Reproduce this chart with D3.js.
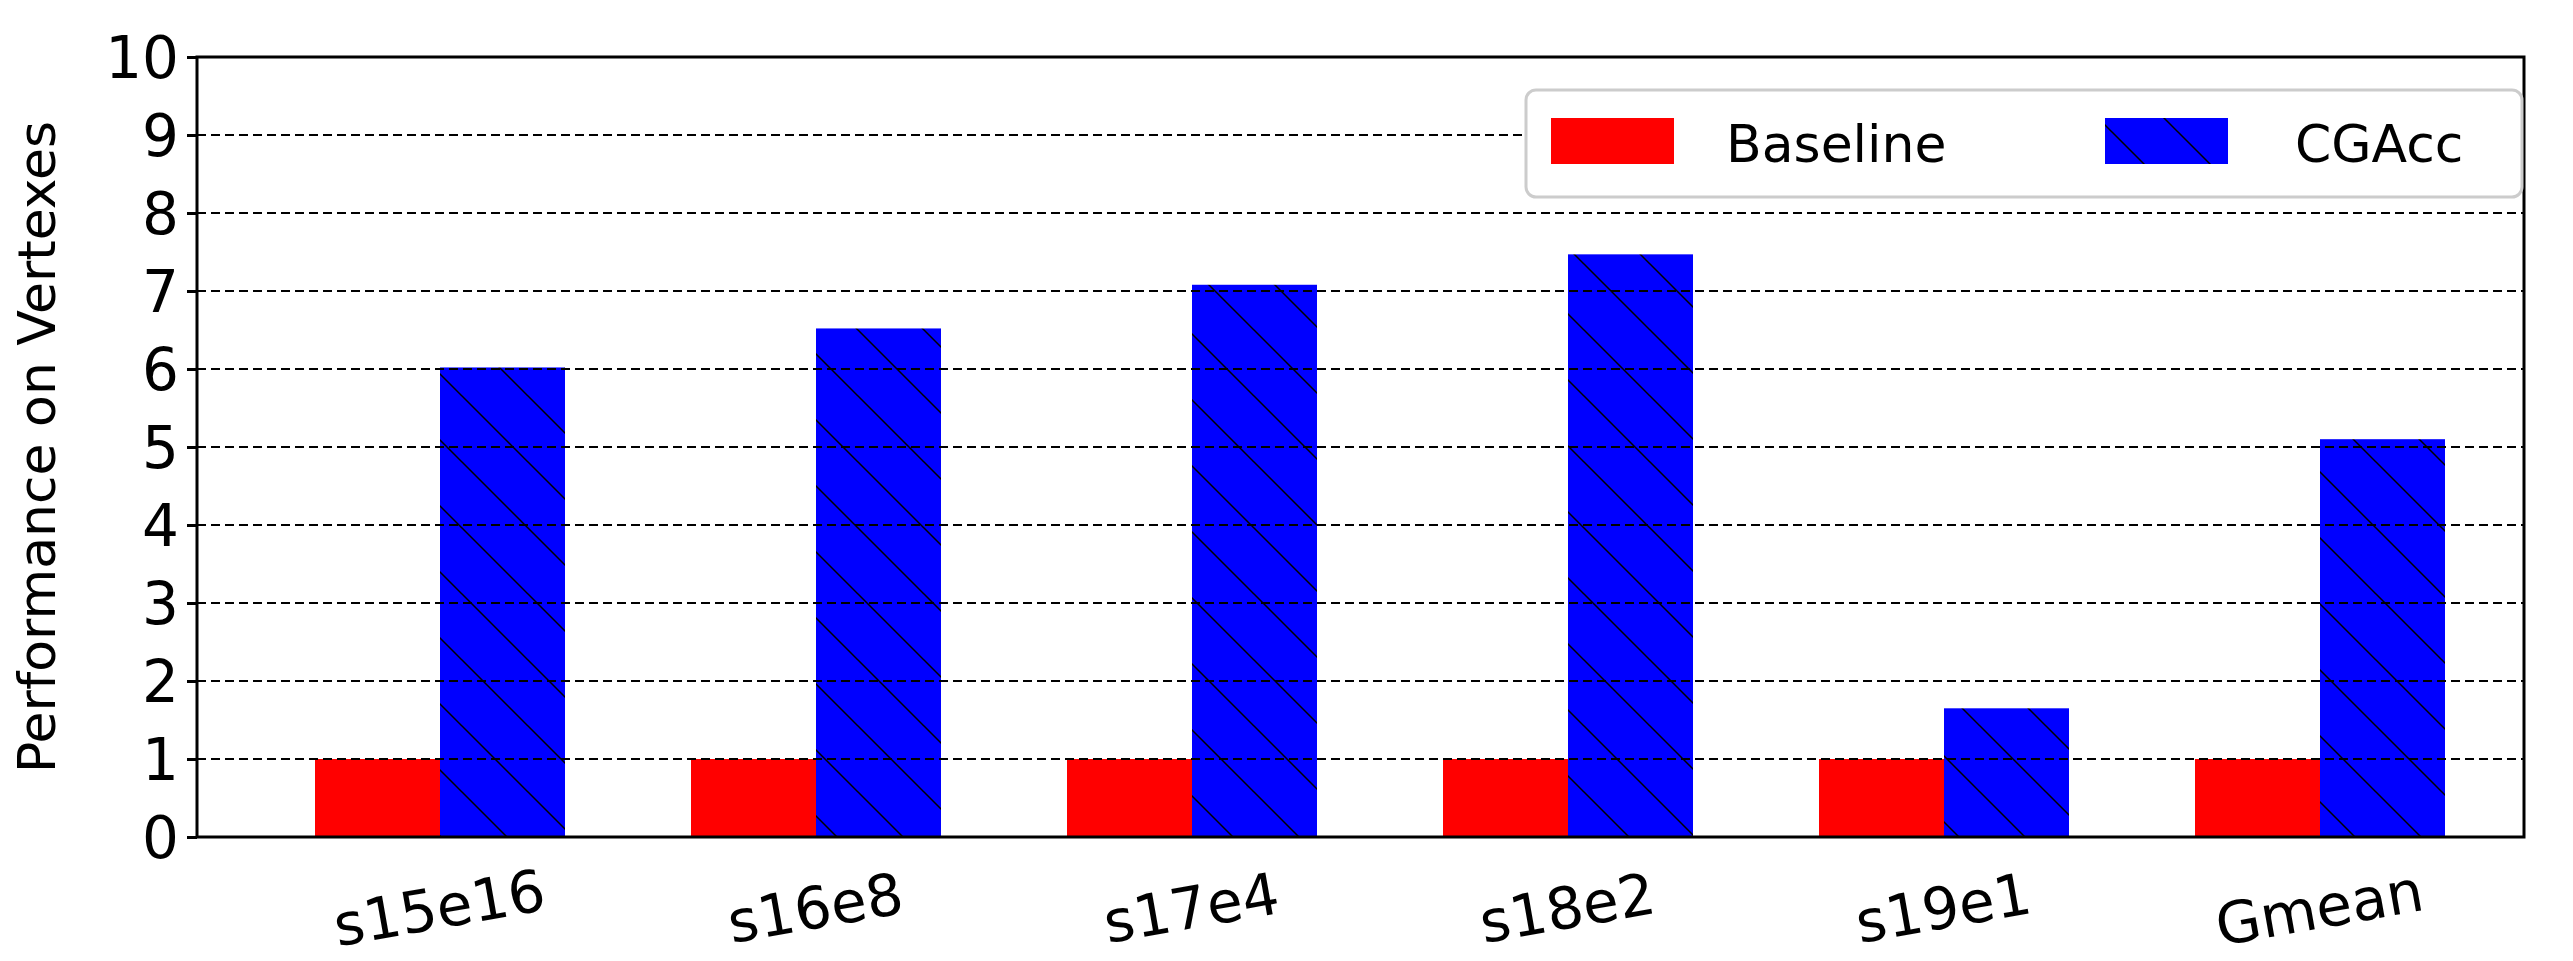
<!DOCTYPE html>
<html>
<head>
<meta charset="utf-8">
<script src="https://cdn.jsdelivr.net/npm/d3@7"></script>
<style>
  body { margin: 0; background: #fff; }
  text { font-family: "DejaVu Sans", sans-serif; }
</style>
</head>
<body>
<div id="chart"></div>
<script>
const categories = ['s15e16', 's16e8', 's17e4', 's18e2', 's19e1', 'Gmean'];
const baseline = [1, 1, 1, 1, 1, 1];
const cgacc = [6.02, 6.52, 7.08, 7.47, 1.65, 5.1];
const yTicks = [0, 1, 2, 3, 4, 5, 6, 7, 8, 9, 10];
const seriesNames = ['Baseline', 'CGAcc'];

const width = 2573, height = 961;
const margin = { left: 197, right: 49, top: 57, bottom: 124 };
const barWidth = 125;

const svg = d3.select('#chart').append('svg')
    .attr('width', width).attr('height', height);

const defs = svg.append('defs');
const pat = defs.append('pattern')
    .attr('id', 'hatch').attr('patternUnits', 'userSpaceOnUse')
    .attr('width', 66).attr('height', 66);
pat.append('rect').attr('width', 66).attr('height', 66).attr('fill', '#0000ff');
pat.append('path').attr('d', 'M-6,-6L72,72M-6,60L6,72M60,-6L72,6')
    .attr('stroke', '#000').attr('stroke-width', 1.5);

const x = d3.scaleLinear()
    .domain([0, categories.length - 1])
    .range([margin.left + 243, margin.left + 243 + 376 * (categories.length - 1)]);
const y = d3.scaleLinear().domain([0, 10]).range([height - margin.bottom, margin.top]);

const g = svg.append('g');

// bars
g.selectAll('.base').data(baseline).join('rect')
    .attr('x', (d, i) => x(i) - barWidth)
    .attr('y', d => y(d))
    .attr('width', barWidth)
    .attr('height', d => y(0) - y(d))
    .attr('fill', '#ff0000');

g.selectAll('.cg').data(cgacc).join('rect')
    .attr('x', (d, i) => x(i))
    .attr('y', d => y(d))
    .attr('width', barWidth)
    .attr('height', d => y(0) - y(d))
    .attr('fill', 'url(#hatch)');

// grid on top
g.selectAll('.grid').data(yTicks.slice(1, -1)).join('line')
    .attr('x1', margin.left).attr('x2', width - margin.right)
    .attr('y1', d => y(d)).attr('y2', d => y(d))
    .attr('stroke', '#000').attr('stroke-width', 2.2)
    .attr('stroke-dasharray', '9,5');

// frame
svg.append('rect')
    .attr('x', margin.left).attr('y', margin.top)
    .attr('width', width - margin.left - margin.right)
    .attr('height', height - margin.top - margin.bottom)
    .attr('fill', 'none').attr('stroke', '#000').attr('stroke-width', 3);

// y axis
const yAxis = svg.append('g')
    .attr('transform', `translate(${margin.left},0)`)
    .call(d3.axisLeft(y).tickValues(yTicks).tickSize(10).tickPadding(8));
yAxis.select('.domain').remove();
yAxis.selectAll('line').attr('stroke-width', 3);
yAxis.selectAll('text').attr('font-size', 58).attr('dy', '0.36em');

// x labels
svg.selectAll('.xl').data(categories).join('text')
    .attr('transform', (d, i) => `translate(${x(i)},${height - margin.bottom + 75}) rotate(-10)`)
    .attr('text-anchor', 'middle')
    .attr('dominant-baseline', 'middle')
    .attr('font-size', 58)
    .text(d => d);

svg.append('text')
    .attr('transform', `translate(55,${(margin.top + height - margin.bottom) / 2}) rotate(-90)`)
    .attr('text-anchor', 'middle')
    .attr('font-size', 52)
    .text('Performance on Vertexes');

// legend
const lg = svg.append('g');
lg.append('rect').attr('x', 1526).attr('y', 90).attr('width', 996).attr('height', 107)
    .attr('rx', 10).attr('fill', '#fff').attr('stroke', '#ccc').attr('stroke-width', 3);
const lx = [1551, 2105];
const fills = ['#ff0000', 'url(#hatch)'];
lg.selectAll('.lp').data(seriesNames).join('rect')
    .attr('x', (d, i) => lx[i]).attr('y', 118).attr('width', 123).attr('height', 46)
    .attr('fill', (d, i) => fills[i]);
lg.selectAll('.lt').data(seriesNames).join('text')
    .attr('x', (d, i) => lx[i] + (i === 0 ? 175 : 190)).attr('y', 162)
    .attr('font-size', 52)
    .text(d => d);
</script>
</body>
</html>
